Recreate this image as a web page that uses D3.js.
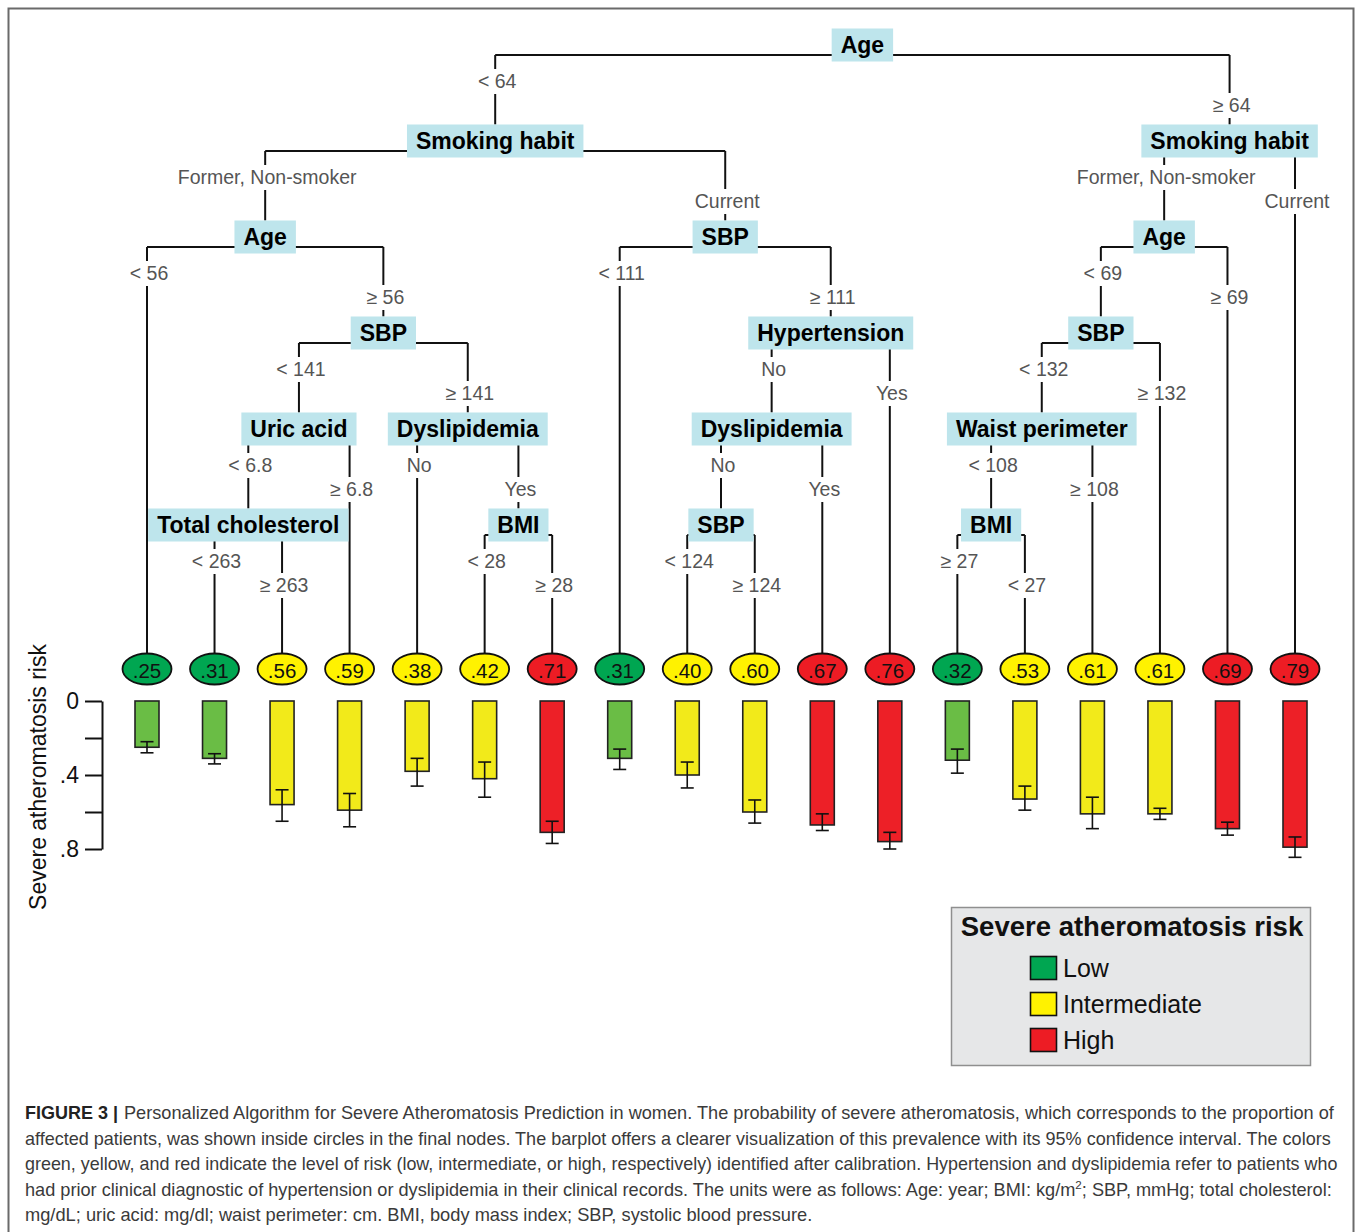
<!DOCTYPE html>
<html><head><meta charset="utf-8">
<script src="https://cdn.jsdelivr.net/npm/d3@7"></script>
<style>body{margin:0;background:#fff}</style>
</head><body><svg id="chart" width="1358" height="1232"></svg>
<script>
// ---------- data ----------
const leafValues = [.25,.31,.56,.59,.38,.42,.71,.31,.40,.60,.67,.76,.32,.53,.61,.61,.69,.79];
const leafRisk = ["Low","Low","Intermediate","Intermediate","Intermediate","Intermediate","High",
  "Low","Intermediate","Intermediate","High","High",
  "Low","Intermediate","Intermediate","Intermediate","High","High"];
const ciLow  = [0.22,0.285,0.48,0.50,0.31,0.33,0.65,0.26,0.33,0.535,0.61,0.71,0.26,0.46,0.52,0.58,0.655,0.735];
const ciHigh = [0.28,0.34,0.65,0.68,0.46,0.52,0.77,0.37,0.47,0.66,0.70,0.80,0.39,0.59,0.69,0.64,0.725,0.845];
const riskLevels = ["Low","Intermediate","High"];
const yTicks = [0, .2, .4, .6, .8];
const yTickLabels = ["0", "", ".4", "", ".8"];
const treeNodes = [
  {id:"n0", parent:null, name:"Age", edge:""},
  {id:"n1", parent:"n0", name:"Smoking habit", edge:"< 64"},
  {id:"n2", parent:"n1", name:"Age", edge:"Former, Non-smoker"},
  {id:"L0", parent:"n2", leaf:0, edge:"< 56"},
  {id:"n3", parent:"n2", name:"SBP", edge:"\u2265 56"},
  {id:"n4", parent:"n3", name:"Uric acid", edge:"< 141"},
  {id:"n5", parent:"n4", name:"Total cholesterol", edge:"< 6.8"},
  {id:"L1", parent:"n5", leaf:1, edge:"< 263"},
  {id:"L2", parent:"n5", leaf:2, edge:"\u2265 263"},
  {id:"L3", parent:"n4", leaf:3, edge:"\u2265 6.8"},
  {id:"n6", parent:"n3", name:"Dyslipidemia", edge:"\u2265 141"},
  {id:"L4", parent:"n6", leaf:4, edge:"No"},
  {id:"n7", parent:"n6", name:"BMI", edge:"Yes"},
  {id:"L5", parent:"n7", leaf:5, edge:"< 28"},
  {id:"L6", parent:"n7", leaf:6, edge:"\u2265 28"},
  {id:"n8", parent:"n1", name:"SBP", edge:"Current"},
  {id:"L7", parent:"n8", leaf:7, edge:"< 111"},
  {id:"n9", parent:"n8", name:"Hypertension", edge:"\u2265 111"},
  {id:"n10", parent:"n9", name:"Dyslipidemia", edge:"No"},
  {id:"n11", parent:"n10", name:"SBP", edge:"No"},
  {id:"L8", parent:"n11", leaf:8, edge:"< 124"},
  {id:"L9", parent:"n11", leaf:9, edge:"\u2265 124"},
  {id:"L10", parent:"n10", leaf:10, edge:"Yes"},
  {id:"L11", parent:"n9", leaf:11, edge:"Yes"},
  {id:"n12", parent:"n0", name:"Smoking habit", edge:"\u2265 64"},
  {id:"n13", parent:"n12", name:"Age", edge:"Former, Non-smoker"},
  {id:"n14", parent:"n13", name:"SBP", edge:"< 69"},
  {id:"n15", parent:"n14", name:"Waist perimeter", edge:"< 132"},
  {id:"n16", parent:"n15", name:"BMI", edge:"< 108"},
  {id:"L12", parent:"n16", leaf:12, edge:"\u2265 27"},
  {id:"L13", parent:"n16", leaf:13, edge:"< 27"},
  {id:"L14", parent:"n15", leaf:14, edge:"\u2265 108"},
  {id:"L15", parent:"n14", leaf:15, edge:"\u2265 132"},
  {id:"L16", parent:"n13", leaf:16, edge:"\u2265 69"},
  {id:"L17", parent:"n12", leaf:17, edge:"Current"}
];
const legendTitle = "Severe atheromatosis risk";
const yAxisTitle = "Severe atheromatosis risk";
const captionBold = "FIGURE 3 |";
const captionLines = [
  ["Personalized Algorithm for Severe Atheromatosis Prediction in women. The probability of severe atheromatosis, which corresponds to the proportion of"],
  ["affected patients, was shown inside circles in the final nodes. The barplot offers a clearer visualization of this prevalence with its 95% confidence interval. The colors"],
  ["green, yellow, and red indicate the level of risk (low, intermediate, or high, respectively) identified after calibration. Hypertension and dyslipidemia refer to patients who"],
  ["had prior clinical diagnostic of hypertension or dyslipidemia in their clinical records. The units were as follows: Age: year; BMI: kg/m", "2", "; SBP, mmHg; total cholesterol:"],
  ["mg/dL; uric acid: mg/dl; waist perimeter: cm. BMI, body mass index; SBP, systolic blood pressure."]
];

// ---------- styles ----------
const FONT = "'Liberation Sans', Arial, Helvetica, sans-serif";
const ovalColor = {Low:"#00a651", Intermediate:"#fff200", High:"#ed1c24"};
const barColor = {Low:"#6abd45", Intermediate:"#f2ea1a", High:"#ed2027"};

const svg = d3.select("#chart").style("font-family", FONT);

// frame
svg.append("rect").attr("x",8.5).attr("y",8.5).attr("width",1345).attr("height",1260)
  .attr("fill","none").attr("stroke","#6a6a6a").attr("stroke-width",2);

// ---------- scales ----------
const xLeaf = d3.scaleLinear().domain([0, leafValues.length-1]).range([147, 1295]);
const yTree = d3.scaleLinear().domain([0, 5]).range([55, 535]);
const yBar = d3.scaleLinear().domain([0, 0.8]).range([701, 849]);
const leafY = 669, rx = 24.5, ry = 15.5, boxH = 33, boxOff = 10;

// ---------- tree ----------
const root = d3.stratify().id(d=>d.id).parentId(d=>d.parent)(treeNodes);
root.eachAfter(n => { n.x = n.children ? d3.mean(n.children, c=>c.x) : xLeaf(n.data.leaf); });
const lineY = n => yTree(n.depth);
const topY = n => n.children ? lineY(n) - boxOff - boxH/2 : leafY - ry;

const gTree = svg.append("g");
const internal = root.descendants().filter(n=>n.children);
// horizontal connectors
gTree.selectAll("line.h").data(internal).join("line")
  .attr("x1", n=>n.children[0].x).attr("x2", n=>n.children[n.children.length-1].x)
  .attr("y1", lineY).attr("y2", lineY)
  .attr("stroke","#111").attr("stroke-width",2);
// vertical connectors, broken around the edge labels
const nonRoot = root.descendants().filter(n=>n.parent);
const labelY = n => lineY(n.parent) + (n.parent.children.indexOf(n) === 0 ? 26 : 50);
gTree.selectAll("line.v1").data(nonRoot).join("line")
  .attr("x1", n=>n.x).attr("x2", n=>n.x)
  .attr("y1", n=>lineY(n.parent)).attr("y2", n=>labelY(n)-12)
  .attr("stroke","#111").attr("stroke-width",2);
gTree.selectAll("line.v2").data(nonRoot).join("line")
  .attr("x1", n=>n.x).attr("x2", n=>n.x)
  .attr("y1", n=>labelY(n)+13).attr("y2", topY)
  .attr("stroke","#111").attr("stroke-width",2);
gTree.selectAll("text.edge").data(nonRoot).join("text")
  .attr("x", n=>n.x + 2).attr("y", labelY)
  .attr("text-anchor","middle").attr("dominant-baseline","central")
  .attr("font-size","19.5px").attr("fill","#555")
  .text(n=>n.data.edge);

// node boxes
const gNodes = gTree.selectAll("g.node").data(internal).join("g")
  .attr("transform", n=>`translate(${n.x},${lineY(n)-boxOff})`);
gNodes.append("rect").attr("fill","#bee5ec").attr("y",-boxH/2).attr("height",boxH);
gNodes.append("text").attr("text-anchor","middle").attr("dominant-baseline","central")
  .attr("font-size","23px").attr("font-weight","bold").attr("fill","#000")
  .text(n=>n.data.name);
gNodes.each(function(){
  const g = d3.select(this);
  const w = g.select("text").node().getComputedTextLength() + 18;
  g.select("rect").attr("x",-w/2).attr("width",w);
});

// leaves
const leaves = root.leaves();
const gLeaf = svg.append("g");
gLeaf.selectAll("ellipse").data(leaves).join("ellipse")
  .attr("cx", n=>n.x).attr("cy", leafY).attr("rx", rx).attr("ry", ry)
  .attr("fill", n=>ovalColor[leafRisk[n.data.leaf]])
  .attr("stroke","#111").attr("stroke-width",1.8);
gLeaf.selectAll("text").data(leaves).join("text")
  .attr("x", n=>n.x).attr("y", leafY+1)
  .attr("text-anchor","middle").attr("dominant-baseline","central")
  .attr("font-size","20.5px").attr("fill","#111")
  .text(n=>d3.format(".2f")(leafValues[n.data.leaf]).replace(/^0/,""));

// ---------- bars ----------
const idx = d3.range(leafValues.length);
const gBars = svg.append("g");
gBars.selectAll("rect").data(idx).join("rect")
  .attr("x", i=>xLeaf(i)-12).attr("width",24)
  .attr("y", yBar(0)).attr("height", i=>yBar(leafValues[i])-yBar(0))
  .attr("fill", i=>barColor[leafRisk[i]]).attr("stroke","#222").attr("stroke-width",1.6);
gBars.selectAll("line.err").data(idx).join("line")
  .attr("x1", i=>xLeaf(i)).attr("x2", i=>xLeaf(i))
  .attr("y1", i=>yBar(ciLow[i])).attr("y2", i=>yBar(ciHigh[i]))
  .attr("stroke","#111").attr("stroke-width",1.6);
[ciLow, ciHigh].forEach(arr=>{
  gBars.append("g").selectAll("line").data(idx).join("line")
    .attr("x1", i=>xLeaf(i)-6.5).attr("x2", i=>xLeaf(i)+6.5)
    .attr("y1", i=>yBar(arr[i])).attr("y2", i=>yBar(arr[i]))
    .attr("stroke","#111").attr("stroke-width",1.6);
});

// axis
const gAxis = svg.append("g").attr("transform","translate(102,0)")
  .call(d3.axisLeft(yBar).tickValues(yTicks).tickSize(17).tickSizeOuter(0).tickPadding(6)
    .tickFormat((d,i)=>yTickLabels[i]));
gAxis.selectAll("path,line").attr("stroke","#111").attr("stroke-width",2);
gAxis.selectAll("text").attr("font-size","23px").attr("font-family",FONT).attr("fill","#111");
svg.append("text").attr("transform","translate(46,777) rotate(-90)")
  .attr("text-anchor","middle").attr("font-size","23px").attr("fill","#111").text(yAxisTitle);

// ---------- legend ----------
const gLeg = svg.append("g");
gLeg.append("rect").attr("x",951.5).attr("y",907.5).attr("width",359).attr("height",158)
  .attr("fill","#e6e7e8").attr("stroke","#8f8f8f").attr("stroke-width",1.5);
gLeg.append("text").attr("x",1132).attr("y",936).attr("text-anchor","middle")
  .attr("font-size","27.5px").attr("font-weight","bold").attr("fill","#111").text(legendTitle);
const legY = d3.scalePoint().domain(riskLevels).range([968, 1040]);
gLeg.selectAll("rect.sw").data(riskLevels).join("rect")
  .attr("x",1030.5).attr("y", d=>legY(d)-11.5).attr("width",26).attr("height",23)
  .attr("fill", d=>ovalColor[d]).attr("stroke","#111").attr("stroke-width",1.6);
gLeg.selectAll("text.lab").data(riskLevels).join("text")
  .attr("x",1063).attr("y", d=>legY(d)).attr("dominant-baseline","central")
  .attr("font-size","25px").attr("fill","#111").text(d=>d);

// ---------- caption ----------
const capY = d3.scaleLinear().domain([0,4]).range([1119, 1221]);
const capEnds = [1335, 1332, 1338, 1332, 813];
const fb = svg.append("text").attr("font-size","18px")
  .attr("font-weight","bold").attr("fill","#222").text(captionBold);
const fbw = fb.node().getBBox().width;
fb.attr("transform",`translate(25,${capY(0)}) scale(${93/fbw},1)`);
captionLines.forEach((parts, li)=>{
  const x0 = li===0 ? 124 : 25;
  const t = svg.append("text").attr("font-size","18px").attr("fill","#3a3a3a");
  parts.forEach((p, pi)=>{
    const sup = parts.length===3 && pi===1;
    const ts = t.append("tspan").text(p);
    if (sup) ts.attr("font-size","11.5px").attr("dy",-7);
    else if (parts.length===3 && pi===2) ts.attr("dy",7);
  });
  const w = t.node().getBBox().width;
  const s = (capEnds[li]-x0)/w;
  t.attr("transform",`translate(${x0},${capY(li)}) scale(${s},1)`);
});
</script></body></html>
